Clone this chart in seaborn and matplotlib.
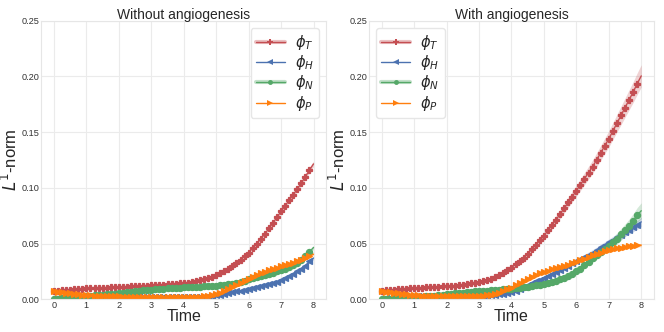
import numpy as np
import pandas as pd
import matplotlib
matplotlib.use("Agg")
import matplotlib.pyplot as plt
import seaborn as sns
from matplotlib.lines import Line2D

# =====================
# DATA (t = 0 .. 8 step 0.125)
# =====================
time = [i * 0.125 for i in range(65)]

# without angiogenesis
phiT_no = [0.0075, 0.0078, 0.0081, 0.0084, 0.0087, 0.0090, 0.0093, 0.0096, 0.0098,
           0.0100, 0.0101, 0.0103, 0.0104, 0.0105, 0.0107, 0.0108, 0.0110,
           0.0112, 0.0113, 0.0115, 0.0117, 0.0119, 0.0121, 0.0123, 0.0125,
           0.0127, 0.0129, 0.0131, 0.0133, 0.0136, 0.0139, 0.0142, 0.0145,
           0.0150, 0.0156, 0.0162, 0.0170, 0.0180, 0.0191, 0.0203, 0.0216,
           0.0234, 0.0254, 0.0276, 0.0300, 0.0327, 0.0356, 0.0387, 0.0420,
           0.0459, 0.0500, 0.0543, 0.0588, 0.0636, 0.0686, 0.0737, 0.0790,
           0.0840, 0.0889, 0.0939, 0.0990, 0.1045, 0.1100, 0.1160, 0.1215]
phiH_no = [0.0005, 0.0008, 0.0012, 0.0015, 0.0018, 0.0021, 0.0024, 0.0026, 0.0028,
           0.0029, 0.0030, 0.0030, 0.0030, 0.0030, 0.0029, 0.0029, 0.0028,
           0.0028, 0.0027, 0.0027, 0.0026, 0.0026, 0.0025, 0.0025, 0.0025,
           0.0024, 0.0024, 0.0023, 0.0023, 0.0023, 0.0022, 0.0022, 0.0022,
           0.0022, 0.0022, 0.0022, 0.0022, 0.0024, 0.0027, 0.0031, 0.0036,
           0.0042, 0.0049, 0.0056, 0.0063, 0.0070, 0.0077, 0.0084, 0.0092,
           0.0100, 0.0108, 0.0116, 0.0125, 0.0135, 0.0146, 0.0158, 0.0172,
           0.0188, 0.0206, 0.0226, 0.0250, 0.0275, 0.0302, 0.0340, 0.0370]
phiN_no = [0.0005, 0.0007, 0.0010, 0.0012, 0.0015, 0.0018, 0.0021, 0.0025, 0.0028,
           0.0031, 0.0035, 0.0038, 0.0042, 0.0045, 0.0049, 0.0052, 0.0056,
           0.0060, 0.0064, 0.0068, 0.0072, 0.0075, 0.0079, 0.0082, 0.0086,
           0.0089, 0.0092, 0.0094, 0.0097, 0.0099, 0.0102, 0.0104, 0.0106,
           0.0108, 0.0110, 0.0112, 0.0114, 0.0116, 0.0118, 0.0120, 0.0123,
           0.0126, 0.0130, 0.0134, 0.0140, 0.0148, 0.0158, 0.0168, 0.0178,
           0.0188, 0.0198, 0.0209, 0.0220, 0.0230, 0.0240, 0.0250, 0.0262,
           0.0275, 0.0290, 0.0308, 0.0330, 0.0355, 0.0385, 0.0425, 0.0465]
phiP_no = [0.0070, 0.0066, 0.0062, 0.0058, 0.0054, 0.0050, 0.0046, 0.0042, 0.0038,
           0.0036, 0.0034, 0.0032, 0.0030, 0.0029, 0.0028, 0.0027, 0.0026,
           0.0025, 0.0025, 0.0024, 0.0024, 0.0023, 0.0023, 0.0022, 0.0022,
           0.0021, 0.0021, 0.0021, 0.0021, 0.0021, 0.0021, 0.0021, 0.0021,
           0.0021, 0.0021, 0.0022, 0.0024, 0.0027, 0.0032, 0.0039, 0.0048,
           0.0060, 0.0075, 0.0092, 0.0110, 0.0128, 0.0146, 0.0165, 0.0185,
           0.0202, 0.0218, 0.0233, 0.0248, 0.0261, 0.0273, 0.0284, 0.0295,
           0.0306, 0.0317, 0.0328, 0.0340, 0.0355, 0.0370, 0.0388, 0.0405]

# with angiogenesis
phiT_an = [0.0075, 0.0079, 0.0082, 0.0086, 0.0089, 0.0092, 0.0095, 0.0098, 0.0100,
           0.0102, 0.0105, 0.0107, 0.0109, 0.0111, 0.0113, 0.0115, 0.0117,
           0.0120, 0.0123, 0.0127, 0.0132, 0.0137, 0.0142, 0.0148, 0.0155,
           0.0163, 0.0172, 0.0185, 0.0200, 0.0218, 0.0238, 0.0260, 0.0285,
           0.0313, 0.0343, 0.0375, 0.0410, 0.0448, 0.0488, 0.0528, 0.0570,
           0.0618, 0.0666, 0.0715, 0.0765, 0.0817, 0.0869, 0.0922, 0.0975,
           0.1028, 0.1082, 0.1136, 0.1190, 0.1252, 0.1314, 0.1377, 0.1440,
           0.1510, 0.1580, 0.1650, 0.1720, 0.1790, 0.1860, 0.1935, 0.2005]
phiH_an = [0.0005, 0.0008, 0.0011, 0.0014, 0.0017, 0.0020, 0.0023, 0.0026, 0.0028,
           0.0029, 0.0029, 0.0030, 0.0030, 0.0030, 0.0030, 0.0030, 0.0030,
           0.0030, 0.0030, 0.0030, 0.0030, 0.0030, 0.0030, 0.0030, 0.0030,
           0.0031, 0.0033, 0.0036, 0.0040, 0.0045, 0.0051, 0.0058, 0.0066,
           0.0077, 0.0091, 0.0108, 0.0126, 0.0144, 0.0161, 0.0177, 0.0195,
           0.0212, 0.0229, 0.0247, 0.0265, 0.0284, 0.0303, 0.0322, 0.0340,
           0.0360, 0.0380, 0.0400, 0.0420, 0.0442, 0.0465, 0.0487, 0.0510,
           0.0532, 0.0555, 0.0577, 0.0600, 0.0622, 0.0645, 0.0668, 0.0695]
phiN_an = [0.0003, 0.0004, 0.0006, 0.0008, 0.0010, 0.0012, 0.0015, 0.0017, 0.0020,
           0.0022, 0.0025, 0.0027, 0.0030, 0.0034, 0.0038, 0.0041, 0.0045,
           0.0049, 0.0053, 0.0056, 0.0060, 0.0063, 0.0067, 0.0070, 0.0073,
           0.0075, 0.0078, 0.0080, 0.0082, 0.0085, 0.0088, 0.0091, 0.0095,
           0.0099, 0.0103, 0.0107, 0.0112, 0.0118, 0.0124, 0.0131, 0.0138,
           0.0147, 0.0157, 0.0168, 0.0180, 0.0195, 0.0211, 0.0230, 0.0250,
           0.0276, 0.0306, 0.0338, 0.0370, 0.0398, 0.0424, 0.0450, 0.0475,
           0.0510, 0.0545, 0.0582, 0.0620, 0.0660, 0.0705, 0.0755, 0.0795]
phiP_an = [0.0070, 0.0066, 0.0062, 0.0058, 0.0054, 0.0050, 0.0046, 0.0042, 0.0038,
           0.0036, 0.0034, 0.0032, 0.0031, 0.0030, 0.0029, 0.0028, 0.0028,
           0.0028, 0.0028, 0.0028, 0.0028, 0.0028, 0.0028, 0.0029, 0.0030,
           0.0033, 0.0037, 0.0043, 0.0051, 0.0061, 0.0073, 0.0088, 0.0105,
           0.0125, 0.0145, 0.0166, 0.0186, 0.0203, 0.0219, 0.0232, 0.0245,
           0.0256, 0.0268, 0.0279, 0.0290, 0.0301, 0.0312, 0.0323, 0.0335,
           0.0350, 0.0365, 0.0380, 0.0395, 0.0407, 0.0418, 0.0429, 0.0440,
           0.0449, 0.0457, 0.0464, 0.0470, 0.0475, 0.0479, 0.0483, 0.0486]

# relative half-width of the shaded band per series (T, H, N, P)
spread_no = [0.02, 0.04, 0.04, 0.03]
spread_an = [0.05, 0.06, 0.09, 0.03]

labels = [r'$\phi_T$', r'$\phi_H$', r'$\phi_N$', r'$\phi_P$']
colors = ['#c44e52', '#4c72b0', '#55a868', '#ff7f0e']
markers = ['P', '<', 'o', '>']
msizes = [5.0, 4.6, 4.4, 4.6]
legend_band = [True, False, True, False]


def long_frame(series, spreads):
    rows = []
    for lab, vals, s in zip(labels, series, spreads):
        for t, v in zip(time, vals):
            rows.append((t, v * (1 - s), lab))
            rows.append((t, v * (1 + s), lab))
    return pd.DataFrame(rows, columns=['time', 'value', 'series'])


df_no = long_frame([phiT_no, phiH_no, phiN_no, phiP_no], spread_no)
df_an = long_frame([phiT_an, phiH_an, phiN_an, phiP_an], spread_an)

# =====================
# PLOT
# =====================
sns.set_style('whitegrid')
plt.rcParams['font.family'] = ['Liberation Sans', 'DejaVu Sans']
plt.rcParams['axes.edgecolor'] = '#e6e6e6'
plt.rcParams['grid.color'] = '#ebebeb'

fig = plt.figure(figsize=(6.64, 3.32), dpi=100)
ax1 = fig.add_axes([0.0617, 0.0985, 0.430, 0.839])
ax2 = fig.add_axes([0.5553, 0.0985, 0.430, 0.839])

panels = [(ax1, df_no, 'Without angiogenesis', 'upper right'),
          (ax2, df_an, 'With angiogenesis', 'upper left')]

for ax, df, title, loc in panels:
    sns.lineplot(data=df, x='time', y='value', hue='series', style='series',
                 hue_order=labels, style_order=labels,
                 palette=colors, markers=markers, dashes=False,
                 estimator='mean', errorbar=('pi', 100),
                 linewidth=1, mew=0.9,
                 err_kws={'alpha': 0.25, 'linewidth': 0},
                 legend=False, ax=ax)
    for line, ms in zip(ax.get_lines(), msizes):
        line.set_markevery(slice(0, 64))
        line.set_markersize(ms)
        line.set_markeredgecolor(line.get_color())

    ax.set_xlim(-0.4, 8.4)
    ax.set_ylim(0, 0.25)
    ax.set_xticks(range(9))
    ax.set_yticks([0.0, 0.05, 0.10, 0.15, 0.20, 0.25])
    ax.yaxis.set_major_formatter(matplotlib.ticker.FormatStrFormatter('%.2f'))
    ax.tick_params(labelsize=6.6, length=0, pad=1.2, colors='#333333')
    ax.set_title(title, fontsize=10, pad=1.5)
    ax.set_xlabel('Time', fontsize=11.5)
    ax.set_ylabel(r'$L^1$-norm', fontsize=12)
    ax.xaxis.set_label_coords(0.5, -0.036)
    ax.yaxis.set_label_coords(-0.072, 0.5)
    for sp in ax.spines.values():
        sp.set_color('#e6e6e6')

    handles = []
    for c, m, ms, b in zip(colors, markers, msizes, legend_band):
        mk = Line2D([], [], color=c, marker=m, markersize=ms * 0.8, mew=0, linewidth=1)
        if b:
            band = Line2D([], [], color=c, alpha=0.35, linewidth=3)
            handles.append((band, mk))
        else:
            handles.append(mk)
    ax.legend(handles, labels, loc=loc, fontsize=10.5, frameon=True,
              handlelength=2.0, labelspacing=0.08, borderpad=0.35,
              handletextpad=0.7, framealpha=1, edgecolor='#e6e6e6')

plt.savefig('out.png', dpi=100)
